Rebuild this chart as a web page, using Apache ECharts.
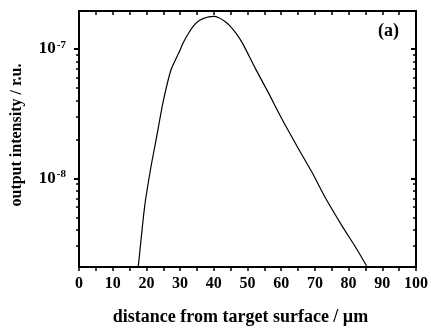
<!DOCTYPE html>
<html><head><meta charset="utf-8">
<script src="https://cdn.jsdelivr.net/npm/echarts@6/dist/echarts.min.js"></script>
<style>html,body{margin:0;padding:0;background:#fff}#c{width:431px;height:331px}</style>
</head><body><div id="c"></div>
<script>
// distance from target surface (µm)
const distance = [17.6, 19.5, 21.4, 22.9, 24.9, 27.3, 29.8, 31.0, 32.5, 34.0, 35.5, 37.0, 38.5, 40.0, 41.5, 43.0, 44.5, 46.5, 48.5, 52.4, 56.3, 60.3, 64.7, 69.1, 73.1, 78.0, 82.4, 85.3];
// log10 of output intensity (r.u.)
const logIntensity = [-8.68, -8.213, -7.905, -7.700, -7.418, -7.162, -7.021, -6.950, -6.880, -6.822, -6.785, -6.765, -6.753, -6.750, -6.760, -6.784, -6.815, -6.877, -6.956, -7.155, -7.344, -7.546, -7.752, -7.952, -8.150, -8.365, -8.546, -8.675];
const intensity = logIntensity.map(v => Math.pow(10, v));
const xTicks = [0, 10, 20, 30, 40, 50, 60, 70, 80, 90, 100];
const yMajor = [1e-8, 1e-7];
const yMinor = [3e-9, 4e-9, 5e-9, 6e-9, 7e-9, 8e-9, 9e-9, 2e-8, 3e-8, 4e-8, 5e-8, 6e-8, 7e-8, 8e-8, 9e-8];

const yMin = Math.pow(10, -8.685), yMax = Math.pow(10, -6.708);
const serif = '"Liberation Serif", "DejaVu Serif", serif';
const lineStyle = {color: '#000', width: 2};

function yAxis(pos, major, inside, showLabel) {
  return {
    type: 'log', position: pos, min: yMin, max: yMax, logBase: 10,
    axisLine: {show: true, lineStyle},
    splitLine: {show: false},
    axisTick: {show: true, inside, length: major ? 5 : 3, customValues: major ? yMajor : yMinor, lineStyle: {color: '#000', width: major ? 2 : 1.5}},
    axisLabel: showLabel ? {
      show: true, customValues: yMajor, margin: 13,
      formatter: v => '{b|10}{s|' + Math.round(Math.log10(v)) + '}',
      rich: {b: {fontFamily: serif, fontWeight: 'bold', fontSize: 17, color: '#000'},
             s: {fontFamily: serif, fontWeight: 'bold', fontSize: 11, color: '#000', verticalAlign: 'top', padding: [0, 0, 8, 1]}}
    } : {show: false},
    name: showLabel ? 'output intensity / r.u.' : '',
    nameLocation: 'middle', nameGap: 54,
    nameTextStyle: {fontFamily: serif, fontWeight: 'bold', fontSize: 16, color: '#000', padding: [0, 0, 0, 8]}
  };
}

const option = {
  animation: false,
  backgroundColor: '#fff',
  grid: {left: 79, right: 13, top: 11, bottom: 63},
  xAxis: [
    {type: 'value', position: 'bottom', min: 0, max: 100, interval: 10,
     axisLine: {lineStyle}, splitLine: {show: false},
     axisTick: {show: true, length: 4, lineStyle: {color: '#000', width: 1.5}},
     minorTick: {show: true, splitNumber: 2, length: 4, lineStyle: {color: '#000', width: 1.5}},
     axisLabel: {margin: 9, fontFamily: serif, fontWeight: 'bold', fontSize: 16, color: '#000',
                 customValues: xTicks},
     name: 'distance from target surface / µm', nameLocation: 'middle', nameGap: 41,
     nameTextStyle: {fontFamily: serif, fontWeight: 'bold', fontSize: 18, color: '#000', padding: [0, 14, 0, 0]}},
    {type: 'value', position: 'top', min: 0, max: 100, interval: 5,
     axisLine: {lineStyle}, splitLine: {show: false},
     axisTick: {show: true, inside: true, length: 4, lineStyle: {color: '#000', width: 1.5}},
     axisLabel: {show: false}}
  ],
  yAxis: [
    yAxis('left', true, false, true),
    yAxis('left', false, false, false),
    yAxis('right', true, true, false),
    yAxis('right', false, true, false)
  ],
  series: [{
    type: 'line', xAxisIndex: 0, yAxisIndex: 0,
    data: distance.map((d, i) => [d, intensity[i]]),
    showSymbol: false, smooth: 0.2,
    lineStyle: {color: '#000', width: 1.2},
    clip: true
  }],
  graphic: [{
    type: 'text', left: 378, top: 22,
    style: {text: '(a)', fontFamily: serif, fontWeight: 'bold', fontSize: 18, fill: '#000'}
  }]
};
echarts.init(document.getElementById('c')).setOption(option);
</script></body></html>
